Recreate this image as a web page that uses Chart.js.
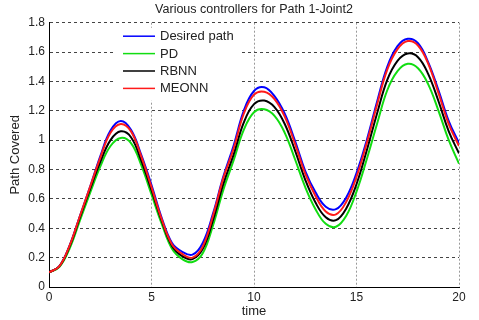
<!DOCTYPE html>
<html>
<head>
<meta charset="utf-8">
<script src="https://cdn.jsdelivr.net/npm/chart.js@4"></script>
<style>
  body { margin: 0; background: #fff; }
  canvas { display: block; }
</style>
</head>
<body>
<canvas id="pathChart" width="479" height="320"></canvas>
<script>
// valeurs lues sur la figure, pas de 0.5
const time = [0, 0.5, 1, 1.5, 2, 2.5, 3, 3.5, 4, 4.5, 5, 5.5, 6, 6.5, 7, 7.5, 8, 8.5, 9, 9.5,
  10, 10.5, 11, 11.5, 12, 12.5, 13, 13.5, 14, 14.5, 15, 15.5, 16, 16.5, 17, 17.5, 18, 18.5, 19, 19.5, 20];

const desiredPath = [0.10, 0.14, 0.28, 0.48, 0.68, 0.89, 1.065, 1.13, 1.07, 0.90, 0.695, 0.47, 0.30, 0.24, 0.22, 0.30, 0.50, 0.75, 0.96, 1.20,
  1.335, 1.36, 1.30, 1.18, 0.995, 0.79, 0.645, 0.547, 0.53, 0.61, 0.776, 1.00, 1.26, 1.50, 1.64, 1.69, 1.66, 1.53, 1.34, 1.13, 0.98];

const pd = [0.10, 0.135, 0.26, 0.45, 0.64, 0.82, 0.96, 1.015, 0.98, 0.83, 0.63, 0.43, 0.26, 0.19, 0.17, 0.23, 0.42, 0.66, 0.86, 1.07,
  1.19, 1.21, 1.165, 1.05, 0.87, 0.68, 0.53, 0.43, 0.41, 0.485, 0.65, 0.87, 1.11, 1.34, 1.47, 1.52, 1.49, 1.38, 1.20, 1.00, 0.84];

const rbnn = [0.10, 0.14, 0.275, 0.47, 0.665, 0.85, 1.00, 1.06, 1.02, 0.86, 0.66, 0.45, 0.28, 0.21, 0.19, 0.26, 0.455, 0.70, 0.90, 1.12,
  1.245, 1.27, 1.225, 1.11, 0.93, 0.73, 0.575, 0.475, 0.455, 0.535, 0.70, 0.93, 1.18, 1.41, 1.54, 1.59, 1.565, 1.45, 1.265, 1.06, 0.91];

const meonn = [0.10, 0.14, 0.28, 0.48, 0.68, 0.88, 1.05, 1.11, 1.06, 0.89, 0.68, 0.46, 0.29, 0.225, 0.20, 0.275, 0.485, 0.74, 0.94, 1.18,
  1.31, 1.33, 1.28, 1.16, 0.975, 0.77, 0.62, 0.515, 0.495, 0.58, 0.75, 0.98, 1.24, 1.48, 1.62, 1.675, 1.645, 1.52, 1.32, 1.11, 0.96];

const seriesNames = ["Desired path", "PD", "RBNN", "MEONN"];
const yTickLabels = ["0", "0.2", "0.4", "0.6", "0.8", "1", "1.2", "1.4", "1.6", "1.8"];
const xTickLabels = ["0", "5", "10", "15", "20"];

function toPoints(values) {
  return values.map((v, i) => ({ x: time[i], y: v }));
}

// légende dessinée à l'intérieur du graphique, comme dans la figure
const innerLegend = {
  id: "innerLegend",
  afterDatasetsDraw(chart) {
    const ctx = chart.ctx;
    const a = chart.chartArea;
    const x0 = a.left + 66, y0 = a.top + 5;
    ctx.save();
    ctx.fillStyle = "#fff";
    ctx.fillRect(x0, y0, 124, 73);
    ctx.font = "13px 'Liberation Sans', Arial, sans-serif";
    ctx.textBaseline = "middle";
    chart.data.datasets.forEach((ds, i) => {
      const y = y0 + 8.5 + i * 17.4;
      ctx.strokeStyle = ds.borderColor;
      ctx.lineWidth = 1.5;
      ctx.beginPath();
      ctx.moveTo(x0 + 8, y);
      ctx.lineTo(x0 + 40, y);
      ctx.stroke();
      ctx.fillStyle = "#222";
      ctx.fillText(ds.label, x0 + 45, y + 0.5);
    });
    ctx.restore();
  },
};

const colors = ["#0000ff", "#11dd11", "#000000", "#ff1a1a"];
const allSeries = [desiredPath, pd, rbnn, meonn];

const ctx = document.getElementById("pathChart").getContext("2d");
new Chart(ctx, {
  type: "line",
  data: {
    datasets: allSeries.map((values, i) => ({
      label: seriesNames[i],
      data: toPoints(values),
      borderColor: colors[i],
      borderWidth: 2,
      pointRadius: 0,
      fill: false,
      tension: 0.4,
      order: allSeries.length - i,
    })),
  },
  options: {
    responsive: false,
    animation: false,
    devicePixelRatio: 1,
    layout: { padding: { left: 0, right: 20, top: 0, bottom: 0 } },
    plugins: {
      legend: { display: false },
      tooltip: { enabled: false },
      title: {
        display: true,
        fullSize: false,
        text: "Various controllers for Path 1-Joint2",
        color: "#222",
        font: { family: "'Liberation Sans', Arial, sans-serif", size: 12.5, weight: "normal" },
        padding: { top: 2.5, bottom: 5.2 },
      },
    },
    scales: {
      x: {
        type: "linear",
        min: 0,
        max: 20,
        afterFit: (scale) => { scale.height = 33; },
        ticks: {
          stepSize: 5,
          padding: 3,
          color: "#222",
          font: { family: "'Liberation Sans', Arial, sans-serif", size: 12 },
          callback: (value, index) => xTickLabels[index],
          maxRotation: 0,
        },
        grid: { color: "#999", lineWidth: 1, drawTicks: false },
        border: { display: true, color: "#000", width: 1, dash: [2, 2] },
        title: {
          display: true,
          text: "time",
          color: "#222",
          font: { family: "'Liberation Sans', Arial, sans-serif", size: 13 },
          padding: { top: 0, bottom: 1 },
        },
      },
      y: {
        min: 0,
        max: 1.8,
        afterFit: (scale) => { scale.width = 49; },
        ticks: {
          stepSize: 0.2,
          padding: 4,
          color: "#222",
          font: { family: "'Liberation Sans', Arial, sans-serif", size: 12 },
          callback: (value, index) => yTickLabels[index],
        },
        grid: { color: "#444", lineWidth: 1, drawTicks: false },
        border: { display: true, color: "#000", width: 1, dash: [3, 3] },
        title: {
          display: true,
          text: "Path Covered",
          color: "#222",
          font: { family: "'Liberation Sans', Arial, sans-serif", size: 13 },
          padding: { top: 8, bottom: 0 },
        },
      },
    },
  },
  plugins: [innerLegend],
});
</script>
</body>
</html>
